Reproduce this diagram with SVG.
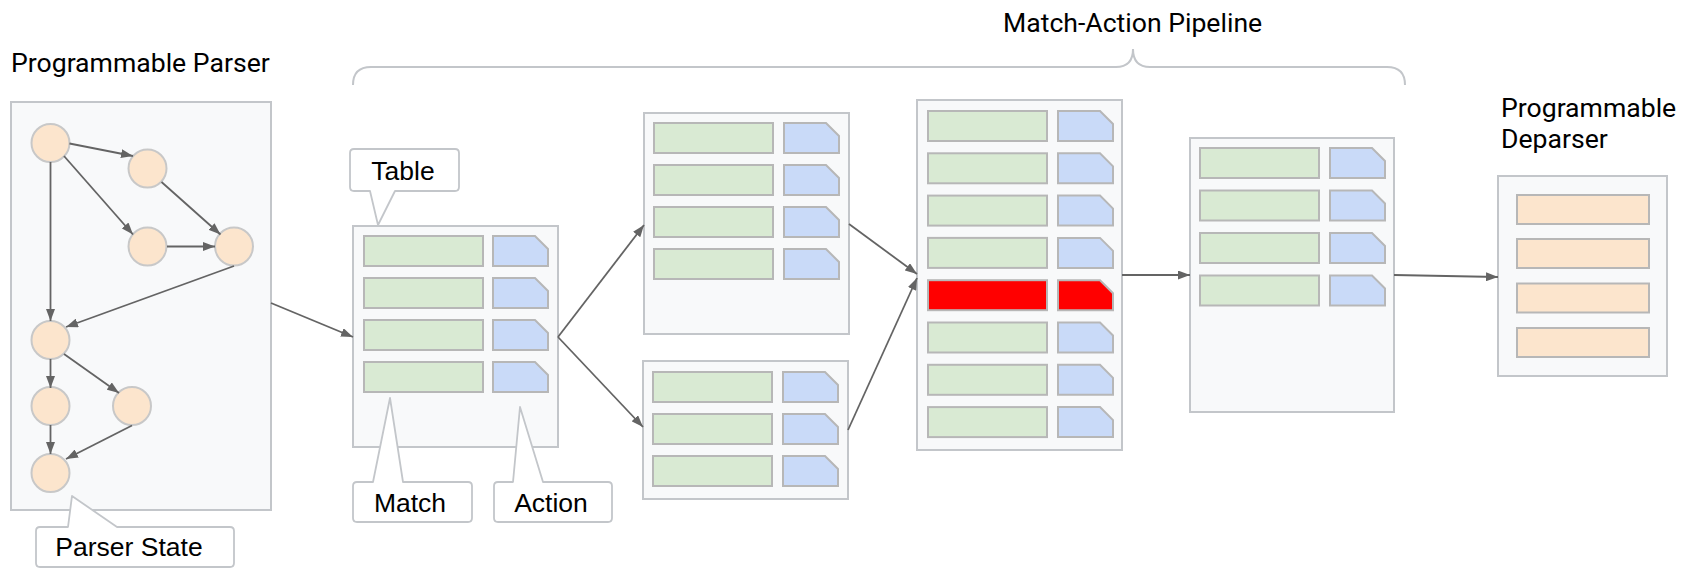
<svg xmlns="http://www.w3.org/2000/svg" xmlns:xlink="http://www.w3.org/1999/xlink" width="1682" height="568" viewBox="0 0 1682 568">
  <style>
    .title { font-family: Roboto, "Liberation Sans", sans-serif; font-size: 26.6px; fill: #000; }
    .lbl { font-family: "Liberation Sans", Arial, sans-serif; font-size: 26.5px; fill: #000; text-anchor: middle; }
    .box { fill: #f8f9fa; stroke: #c3c6ca; stroke-width: 2; }
    .call { fill: #fff; stroke: #c3c6ca; stroke-width: 1.8; stroke-linejoin: round; }
    .brace { fill: none; stroke: #c3c6ca; stroke-width: 2; }
    .st { fill: #fce5cd; stroke: #c8c8c8; stroke-width: 2; }
    .m { fill: #d9ead3; stroke: #b7b7b7; stroke-width: 2; }
    .a { fill: #c9daf8; stroke: #b7b7b7; stroke-width: 2; }
    .hit { fill: #ff0000; stroke: #b7b7b7; stroke-width: 2; }
    .o { fill: #fce5cd; stroke: #b7b7b7; stroke-width: 2; }
    .edge { fill: none; stroke: #646464; stroke-width: 1.8; marker-end: url(#head); }
  </style>
  <defs>
    <marker id="head" markerUnits="userSpaceOnUse" markerWidth="12" markerHeight="9" refX="12" refY="4.5" orient="auto">
      <path d="M0,0 L12,4.5 L0,9 Z" fill="#646464"/>
    </marker>
    <rect id="mrow" width="119" height="30"/>
    <path id="arow" d="M0,0 H42 L55,13 V30 H0 Z"/>
  </defs>

  <!-- headings -->
  <text class="title" x="11" y="72">Programmable Parser</text>
  <text class="title" x="1003" y="32">Match-Action Pipeline</text>
  <text class="title" x="1501" y="117">Programmable</text>
  <text class="title" x="1501" y="148">Deparser</text>

  <!-- pipeline brace -->
  <path class="brace" d="M353,85 Q353,67 371,67 H1116 C1128,67 1133,60 1133,49 C1133,60 1138,67 1150,67 H1387 Q1405,67 1405,85"/>

  <!-- parser -->
  <g id="parser">
    <rect class="box" x="11" y="102" width="260" height="408"/>
    <circle class="st" cx="50.5" cy="143" r="19"/>
    <circle class="st" cx="147.5" cy="168.5" r="19"/>
    <circle class="st" cx="147.5" cy="246.5" r="19"/>
    <circle class="st" cx="234" cy="246.5" r="19"/>
    <circle class="st" cx="50.5" cy="340" r="19"/>
    <circle class="st" cx="50.5" cy="406" r="19"/>
    <circle class="st" cx="132" cy="406" r="19"/>
    <circle class="st" cx="50.5" cy="473" r="19"/>
  </g>

  <!-- parse graph transitions -->
  <g id="parse-edges">
    <path class="edge" d="M69.5,143.5 L133,156"/>
    <path class="edge" d="M64,156 L133,234.5"/>
    <path class="edge" d="M161.5,182 L220.5,234.5"/>
    <path class="edge" d="M167,246.5 L215,246.5"/>
    <path class="edge" d="M234,266 L66,327"/>
    <path class="edge" d="M50.5,162 L50.5,321"/>
    <path class="edge" d="M50.5,359 L50.5,388"/>
    <path class="edge" d="M64,354 L119,393"/>
    <path class="edge" d="M50.5,425 L50.5,454"/>
    <path class="edge" d="M132,425.5 L66,459"/>
  </g>

  <!-- first table -->
  <g id="table1">
    <rect class="box" x="353" y="226" width="205" height="221"/>
    <use href="#mrow" class="m" x="364" y="236"/><use href="#arow" class="a" x="493" y="236"/>
    <use href="#mrow" class="m" x="364" y="278"/><use href="#arow" class="a" x="493" y="278"/>
    <use href="#mrow" class="m" x="364" y="320"/><use href="#arow" class="a" x="493" y="320"/>
    <use href="#mrow" class="m" x="364" y="362"/><use href="#arow" class="a" x="493" y="362"/>
  </g>

  <!-- upper branch table -->
  <g id="table2">
    <rect class="box" x="644" y="113" width="205" height="221"/>
    <use href="#mrow" class="m" x="654" y="123"/><use href="#arow" class="a" x="784" y="123"/>
    <use href="#mrow" class="m" x="654" y="165"/><use href="#arow" class="a" x="784" y="165"/>
    <use href="#mrow" class="m" x="654" y="207"/><use href="#arow" class="a" x="784" y="207"/>
    <use href="#mrow" class="m" x="654" y="249"/><use href="#arow" class="a" x="784" y="249"/>
  </g>

  <!-- lower branch table -->
  <g id="table3">
    <rect class="box" x="643" y="361" width="205" height="138"/>
    <use href="#mrow" class="m" x="653" y="372"/><use href="#arow" class="a" x="783" y="372"/>
    <use href="#mrow" class="m" x="653" y="414"/><use href="#arow" class="a" x="783" y="414"/>
    <use href="#mrow" class="m" x="653" y="456"/><use href="#arow" class="a" x="783" y="456"/>
  </g>

  <!-- merge table with the matched entry -->
  <g id="table4">
    <rect class="box" x="917" y="100" width="205" height="350"/>
    <use href="#mrow" class="m" x="928" y="111"/><use href="#arow" class="a" x="1058" y="111"/>
    <use href="#mrow" class="m" x="928" y="153.3"/><use href="#arow" class="a" x="1058" y="153.3"/>
    <use href="#mrow" class="m" x="928" y="195.6"/><use href="#arow" class="a" x="1058" y="195.6"/>
    <use href="#mrow" class="m" x="928" y="237.9"/><use href="#arow" class="a" x="1058" y="237.9"/>
    <use href="#mrow" class="hit" x="928" y="280.2"/><use href="#arow" class="hit" x="1058" y="280.2"/>
    <use href="#mrow" class="m" x="928" y="322.5"/><use href="#arow" class="a" x="1058" y="322.5"/>
    <use href="#mrow" class="m" x="928" y="364.8"/><use href="#arow" class="a" x="1058" y="364.8"/>
    <use href="#mrow" class="m" x="928" y="407.1"/><use href="#arow" class="a" x="1058" y="407.1"/>
  </g>

  <!-- last table -->
  <g id="table5">
    <rect class="box" x="1190" y="138" width="204" height="274"/>
    <use href="#mrow" class="m" x="1200" y="148"/><use href="#arow" class="a" x="1330" y="148"/>
    <use href="#mrow" class="m" x="1200" y="190.5"/><use href="#arow" class="a" x="1330" y="190.5"/>
    <use href="#mrow" class="m" x="1200" y="233"/><use href="#arow" class="a" x="1330" y="233"/>
    <use href="#mrow" class="m" x="1200" y="275.5"/><use href="#arow" class="a" x="1330" y="275.5"/>
  </g>

  <!-- deparser -->
  <g id="deparser">
    <rect class="box" x="1498" y="176" width="169" height="200"/>
    <rect class="o" x="1517" y="195" width="132" height="29"/>
    <rect class="o" x="1517" y="239" width="132" height="29"/>
    <rect class="o" x="1517" y="283.5" width="132" height="29"/>
    <rect class="o" x="1517" y="328" width="132" height="29"/>
  </g>

  <!-- callouts -->
  <g id="callout-table">
    <path class="call" d="M354,149 H455 Q459,149 459,153 V187 Q459,191 455,191 H395 L378,225 L370,191 H354 Q350,191 350,187 V153 Q350,149 354,149 Z"/>
    <text class="lbl" x="403" y="180">Table</text>
  </g>
  <g id="callout-match">
    <path class="call" d="M357,482 H373 L390,398 L403,482 H468 Q472,482 472,486 V518 Q472,522 468,522 H357 Q353,522 353,518 V486 Q353,482 357,482 Z"/>
    <text class="lbl" x="410" y="512">Match</text>
  </g>
  <g id="callout-action">
    <path class="call" d="M498,482 H513 L520,407 L543,482 H608 Q612,482 612,486 V518 Q612,522 608,522 H498 Q494,522 494,518 V486 Q494,482 498,482 Z"/>
    <text class="lbl" x="551" y="512">Action</text>
  </g>
  <g id="callout-state">
    <path class="call" d="M40,527 H68 L72,496 L117,527 H230 Q234,527 234,531 V563 Q234,567 230,567 H40 Q36,567 36,563 V531 Q36,527 40,527 Z"/>
    <text class="lbl" x="129" y="556">Parser State</text>
  </g>

  <!-- pipeline connectors -->
  <g id="connectors">
    <path class="edge" d="M271,303 L353,337"/>
    <path class="edge" d="M558,337 L644,225"/>
    <path class="edge" d="M558,337 L643,427"/>
    <path class="edge" d="M849,224 L917,274"/>
    <path class="edge" d="M848,430 L917,278"/>
    <path class="edge" d="M1122,275 L1190,275"/>
    <path class="edge" d="M1394,275 L1498,277"/>
  </g>
</svg>
